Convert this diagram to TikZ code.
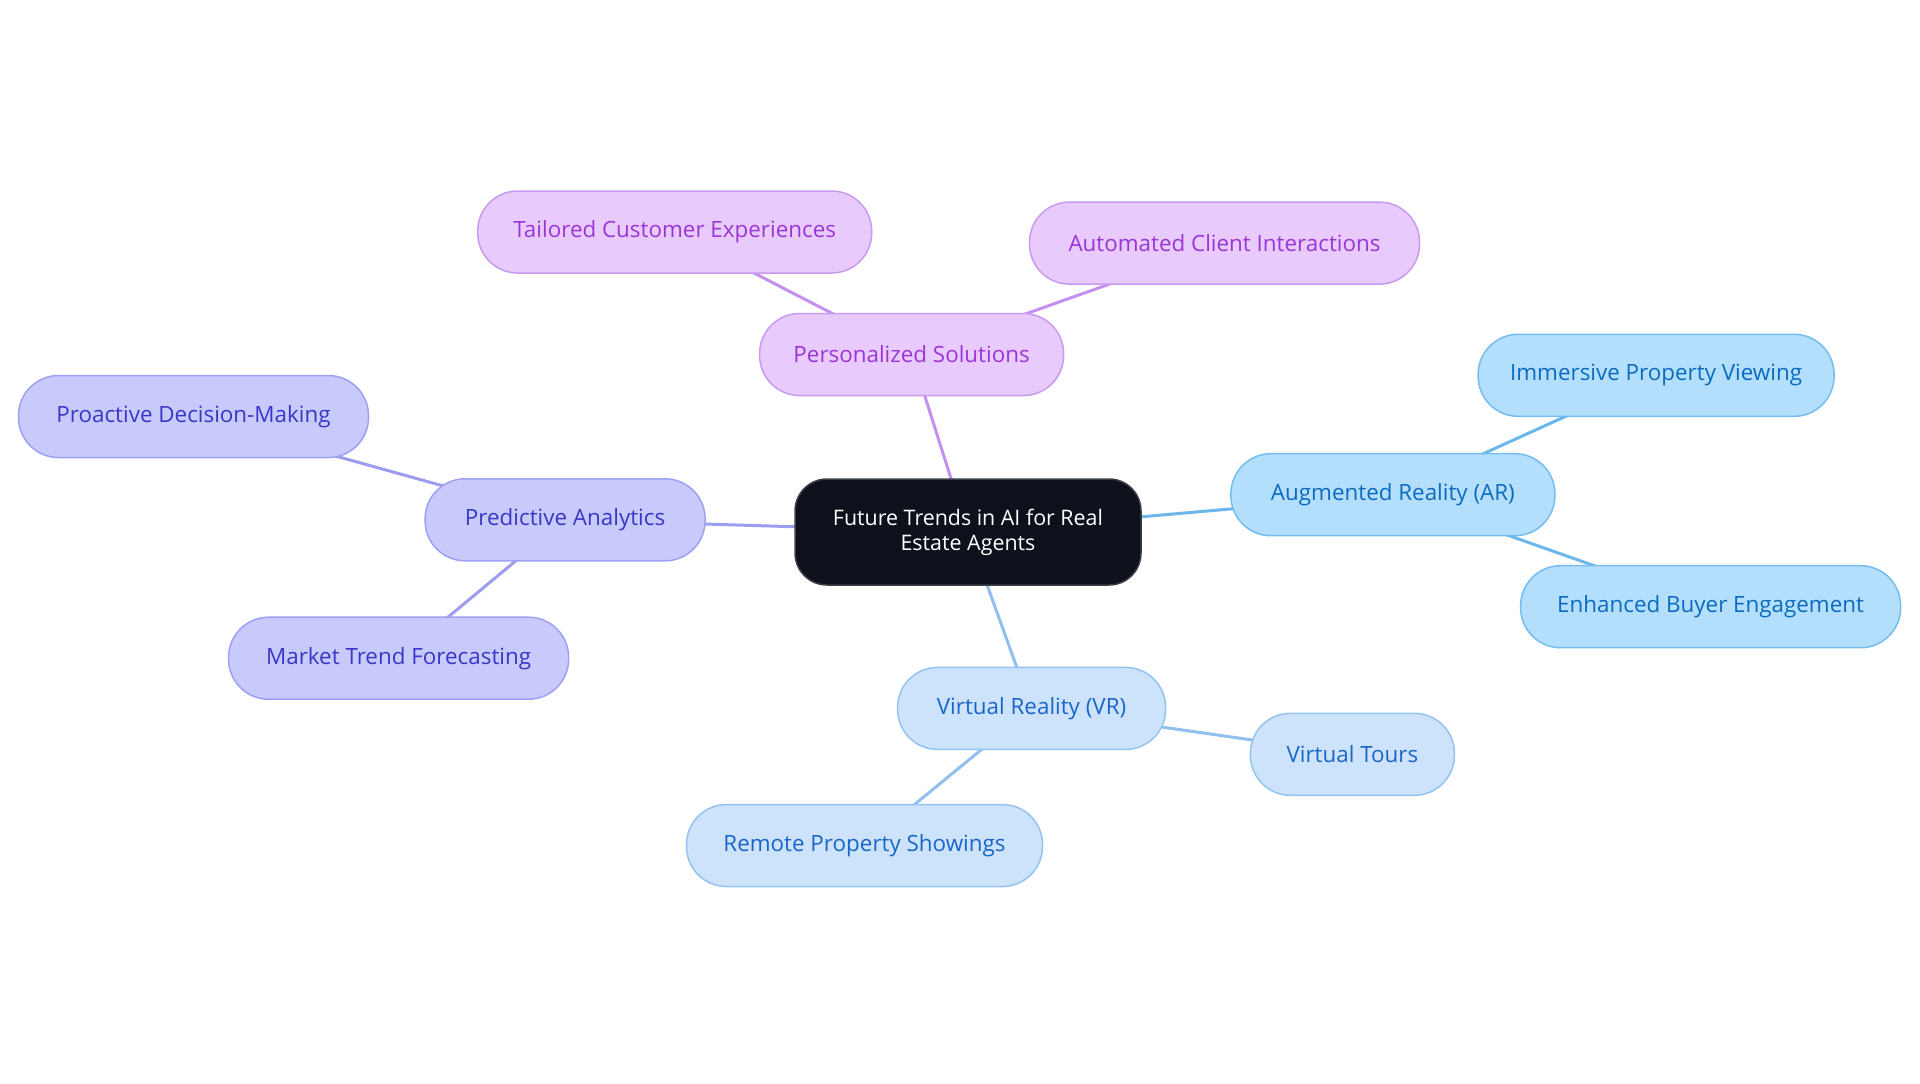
\documentclass[tikz,border=0pt]{standalone}
\usepackage{fontspec}
\setmainfont{Open Sans}
\usetikzlibrary{backgrounds}
\definecolor{pfill}{HTML}{E8CAFD}
\definecolor{pdraw}{HTML}{C79BEF}
\definecolor{ptext}{HTML}{9A36D6}
\definecolor{pedge}{HTML}{C490EF}
\definecolor{vfill}{HTML}{C8CAFC}
\definecolor{vdraw}{HTML}{9EA0F3}
\definecolor{vtext}{HTML}{3B36C6}
\definecolor{vedge}{HTML}{9C9DF0}
\definecolor{afill}{HTML}{B3DFFD}
\definecolor{adraw}{HTML}{75BCEF}
\definecolor{atext}{HTML}{0B6BBF}
\definecolor{aedge}{HTML}{6BB7EC}
\definecolor{rfill}{HTML}{CDE3FB}
\definecolor{rdraw}{HTML}{94C2F1}
\definecolor{rtext}{HTML}{1A66C7}
\definecolor{redge}{HTML}{92C0EE}
\definecolor{cfill}{HTML}{0C111B}
\definecolor{cdraw}{HTML}{3A3F48}
\tikzset{
  pill/.style={rounded corners=20pt, minimum height=41pt, line width=0.75pt, inner xsep=4pt, font=\fontsize{11.2pt}{13.5pt}\selectfont},
  purp/.style={pill, fill=pfill, draw=pdraw, text=ptext},
  viol/.style={pill, fill=vfill, draw=vdraw, text=vtext},
  arb/.style={pill, fill=afill, draw=adraw, text=atext},
  vrb/.style={pill, fill=rfill, draw=rdraw, text=rtext},
  centre/.style={rounded corners=16pt, minimum height=53pt, minimum width=173pt, line width=0.75pt, fill=cfill, draw=cdraw, text=white, align=center, font=\fontsize{10.7pt}{12.5pt}\selectfont},
  edge/.style={line width=1.5pt}
}
\begin{document}
\begin{tikzpicture}[x=0.5pt,y=-0.5pt]
\useasboundingbox (0,0) rectangle (1920,1083);
\node[centre] (c) at (968,532) {Future Trends in AI for Real\\Estate Agents};
\node[purp, minimum width=152pt] (ps) at (911.6,354.5) {Personalized Solutions};
\node[purp, minimum width=197pt] (tce) at (674.7,232) {Tailored Customer Experiences};
\node[purp, minimum width=195pt] (aci) at (1224.5,243.1) {Automated Client Interactions};
\node[viol, minimum width=140pt] (pa) at (565.1,519.8) {Predictive Analytics};
\node[viol, minimum width=175pt] (pdm) at (193.5,416.5) {Proactive Decision-Making};
\node[viol, minimum width=170pt] (mtf) at (398.6,658.2) {Market Trend Forecasting};
\node[arb, minimum width=162pt] (ar) at (1392.9,494.7) {Augmented Reality (AR)};
\node[arb, minimum width=178pt] (ipv) at (1656.1,375.3) {Immersive Property Viewing};
\node[arb, minimum width=190pt] (ebe) at (1710.6,606.7) {Enhanced Buyer Engagement};
\node[vrb, minimum width=134pt] (vr) at (1031.6,708.4) {Virtual Reality (VR)};
\node[vrb, minimum width=102pt] (vt) at (1352.4,754.3) {Virtual Tours};
\node[vrb, minimum width=178pt] (rps) at (864.5,845.5) {Remote Property Showings};
\begin{scope}[on background layer]
\draw[edge, pedge] (c.center) -- (ps.center);
\draw[edge, pedge] (ps.center) -- (tce.center);
\draw[edge, pedge] (ps.center) -- (aci.center);
\draw[edge, vedge] (c.center) -- (pa.center);
\draw[edge, vedge] (pa.center) -- (pdm.center);
\draw[edge, vedge] (pa.center) -- (mtf.center);
\draw[edge, aedge] (c.center) -- (ar.center);
\draw[edge, aedge] (ar.center) -- (ipv.center);
\draw[edge, aedge] (ar.center) -- (ebe.center);
\draw[edge, redge] (c.center) -- (vr.center);
\draw[edge, redge] (vr.center) -- (vt.center);
\draw[edge, redge] (vr.center) -- (rps.center);
\end{scope}
\end{tikzpicture}
\end{document}
